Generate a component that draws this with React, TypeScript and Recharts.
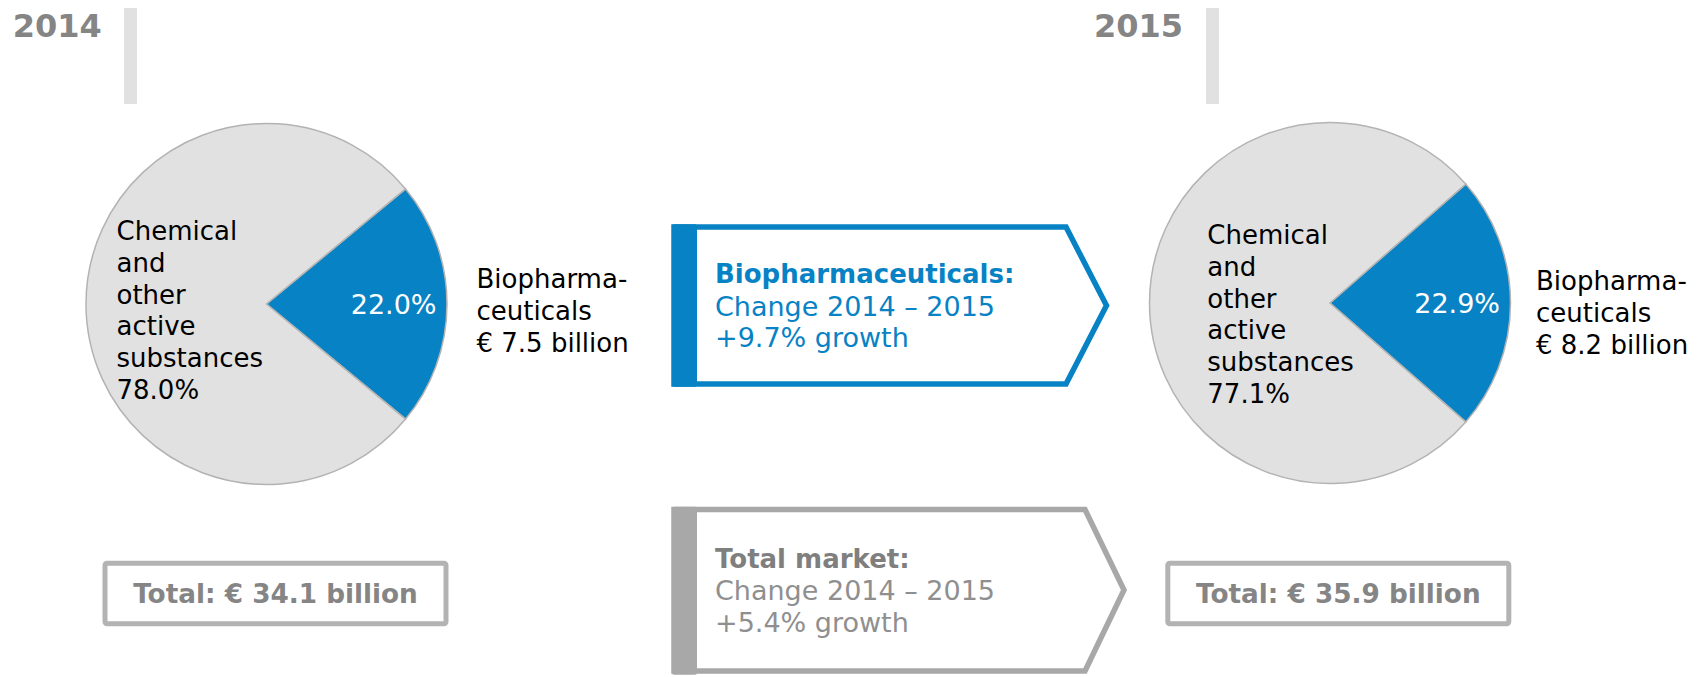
import React from "react";
import { PieChart, Pie, Cell } from "recharts";

// market data, € billion / percent
const YEARS = ["2014", "2015"];
const CATEGORIES = ["Biopharmaceuticals", "Chemical and other active substances"];
const BIO_SHARE = [22.0, 22.9];
const CHEM_SHARE = [78.0, 77.1];
const BIO_VALUE = [7.5, 8.2];
const TOTAL_VALUE = [34.1, 35.9];
const BIO_GROWTH = 9.7;
const TOTAL_GROWTH = 5.4;
const BIO_LABEL = ["Biopharma-", "ceuticals"];
const CHANGE_LABEL = "Change 2014 – 2015";

const W = 1708;
const H = 677;
const R = 180.5;
const FONT = "DejaVu Sans";
const BLUE = "#0782c4";
const LIGHT = "#e1e1e1";
const EDGE = "#b3b3b3";
const LINE = 31.8;

// where each pie and its labels sit
const PIES = [
  { cx: 266.5, cy: 304, chemDx: -150, chemTop: -64, bioDx: 210, bioTop: -15.7, yearX: 12.7, barX: 124, totalX: 275.5 },
  { cx: 1330, cy: 303, chemDx: -122.7, chemTop: -59, bioDx: 206, bioTop: -13, yearX: 1094, barX: 1206, totalX: 1338.3 },
];

const pieData = (i: number) => [
  { name: CATEGORIES[0], value: BIO_SHARE[i] },
  { name: CATEGORIES[1], value: CHEM_SHARE[i] },
];

const fmt = (v: number) => v.toFixed(1);

const makeLabel = (i: number) => (props: any) => {
  const p = PIES[i];
  if (props.index === 0) {
    return (
      <g>
        <text x={p.cx + 170} y={p.cy + 10} textAnchor="end" fill="#fff" fontSize={27} fontFamily={FONT}>
          {fmt(props.value)}%
        </text>
        {[...BIO_LABEL, `€ ${fmt(BIO_VALUE[i])} billion`].map((t, k) => (
          <text key={k} x={p.cx + p.bioDx} y={p.cy + p.bioTop + k * LINE} fill="#000" fontSize={26} fontFamily={FONT}>
            {t}
          </text>
        ))}
      </g>
    );
  }
  const lines = [...CATEGORIES[1].split(" "), `${fmt(props.value)}%`];
  return (
    <g>
      {lines.map((t, k) => (
        <text key={k} x={p.cx + p.chemDx} y={p.cy + p.chemTop + k * LINE} fill="#000" fontSize={26} fontFamily={FONT}>
          {t}
        </text>
      ))}
    </g>
  );
};

export default function App() {
  return (
    <div style={{ position: "absolute", left: 0, top: 0, width: W, height: H, background: "#fff" }}>
      <PieChart width={W} height={H} margin={{ top: 0, right: 0, bottom: 0, left: 0 }}>
        {YEARS.map((y, i) => (
          <Pie
            key={y}
            data={pieData(i)}
            dataKey="value"
            nameKey="name"
            cx={PIES[i].cx}
            cy={PIES[i].cy}
            innerRadius={0}
            outerRadius={R}
            startAngle={-BIO_SHARE[i] * 1.8}
            endAngle={360 - BIO_SHARE[i] * 1.8}
            isAnimationActive={false}
            label={makeLabel(i)}
            labelLine={false}
          >
            <Cell fill={BLUE} stroke={EDGE} strokeWidth={1.5} />
            <Cell fill={LIGHT} stroke={EDGE} strokeWidth={1.5} />
          </Pie>
        ))}
      </PieChart>

      <svg width={W} height={H} style={{ position: "absolute", left: 0, top: 0, pointerEvents: "none" }}>
        {YEARS.map((y, i) => (
          <g key={y}>
            <text x={PIES[i].yearX} y={36.5} fill="#858585" fontSize={32} fontWeight="bold" fontFamily={FONT}>
              {y}
            </text>
            <rect x={PIES[i].barX} y={8} width={13} height={96} fill={LIGHT} />
            <rect x={PIES[i].totalX - 170.5} y={563.2} width={341} height={60.5} rx={2} fill="#fff" stroke={EDGE} strokeWidth={5} />
            <text x={PIES[i].totalX} y={603.3} textAnchor="middle" fill="#858585" fontSize={26.3} fontWeight="bold" fontFamily={FONT}>
              Total: € {fmt(TOTAL_VALUE[i])} billion
            </text>
          </g>
        ))}

        {/* biopharma change arrow */}
        <path d="M674,227 H1066 L1106.5,305.5 L1066,384 H674 Z" fill="#fff" stroke={BLUE} strokeWidth={5.5} strokeLinejoin="miter" />
        <rect x={672} y={224.3} width={25} height={162.5} rx={2} fill={BLUE} />
        <text x={715} y={283.3} fill={BLUE} fontSize={26} fontWeight="bold" fontFamily={FONT}>
          {CATEGORIES[0]}:
        </text>
        <text x={715} y={316} fill={BLUE} fontSize={27} fontFamily={FONT}>
          {CHANGE_LABEL}
        </text>
        <text x={715} y={347} fill={BLUE} fontSize={27} fontFamily={FONT}>
          +{fmt(BIO_GROWTH)}% growth
        </text>

        {/* total market change arrow */}
        <path d="M674,509.5 H1085 L1124,590 L1085,671 H674 Z" fill="#fff" stroke="#a8a8a8" strokeWidth={5.5} strokeLinejoin="miter" />
        <rect x={672} y={506.7} width={25} height={168} rx={2} fill="#a8a8a8" />
        <text x={715} y={567.5} fill="#7f7f7f" fontSize={26} fontWeight="bold" fontFamily={FONT}>
          Total market:
        </text>
        <text x={715} y={600} fill="#8f8f8f" fontSize={27} fontFamily={FONT}>
          {CHANGE_LABEL}
        </text>
        <text x={715} y={632} fill="#8f8f8f" fontSize={27} fontFamily={FONT}>
          +{fmt(TOTAL_GROWTH)}% growth
        </text>
      </svg>
    </div>
  );
}
